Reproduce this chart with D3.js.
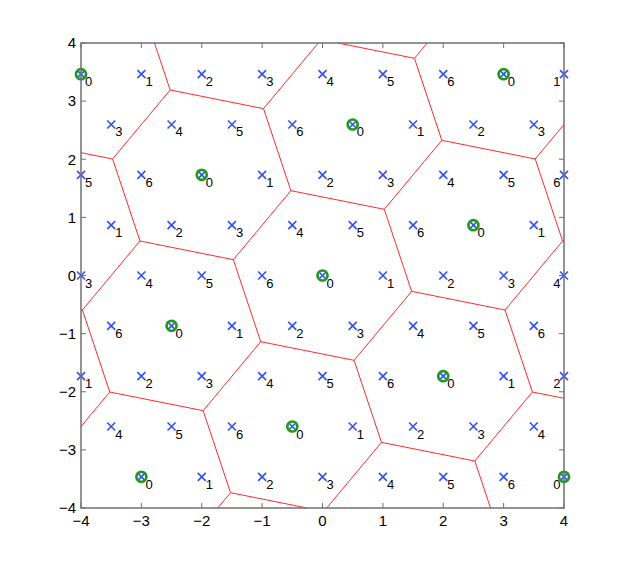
<!DOCTYPE html>
<html>
<head>
<meta charset="utf-8">
<script src="https://cdn.jsdelivr.net/npm/d3@7"></script>
<style>
  html, body { margin: 0; padding: 0; background: #fff; }
  svg { display: block; }
</style>
</head>
<body>
<svg id="chart" width="623" height="571"></svg>
<script>
// ---- data ----
const xTicks = [-4, -3, -2, -1, 0, 1, 2, 3, 4];
const yTicks = [-4, -3, -2, -1, 0, 1, 2, 3, 4];

// lattice rows (y value, x positions, labels)
const rowY = [3.4641, 2.5981, 1.7321, 0.8660, 0, -0.8660, -1.7321, -2.5981, -3.4641];
const rowX = [
  [-4, -3, -2, -1, 0, 1, 2, 3, 4],
  [-3.5, -2.5, -1.5, -0.5, 0.5, 1.5, 2.5, 3.5],
  [-4, -3, -2, -1, 0, 1, 2, 3, 4],
  [-3.5, -2.5, -1.5, -0.5, 0.5, 1.5, 2.5, 3.5],
  [-4, -3, -2, -1, 0, 1, 2, 3, 4],
  [-3.5, -2.5, -1.5, -0.5, 0.5, 1.5, 2.5, 3.5],
  [-4, -3, -2, -1, 0, 1, 2, 3, 4],
  [-3.5, -2.5, -1.5, -0.5, 0.5, 1.5, 2.5, 3.5],
  [-3, -2, -1, 0, 1, 2, 3, 4]
];
const rowLabels = [
  [0, 1, 2, 3, 4, 5, 6, 0, 1],
  [3, 4, 5, 6, 0, 1, 2, 3],
  [5, 6, 0, 1, 2, 3, 4, 5, 6],
  [1, 2, 3, 4, 5, 6, 0, 1],
  [3, 4, 5, 6, 0, 1, 2, 3, 4],
  [6, 0, 1, 2, 3, 4, 5, 6],
  [1, 2, 3, 4, 5, 6, 0, 1, 2],
  [4, 5, 6, 0, 1, 2, 3, 4],
  [0, 1, 2, 3, 4, 5, 6, 0]
];

// cluster centres used for the Voronoi partition (incl. ones just outside the view)
const cellCenters = [
  [6, 6.9282], [-1, 6.9282],
  [3.5, 6.0622], [-3.5, 6.0622],
  [1, 5.1962], [-6, 5.1962],
  [5.5, 4.3301], [-1.5, 4.3301],
  [3, 3.4641], [-4, 3.4641],
  [7.5, 2.5981], [0.5, 2.5981], [-6.5, 2.5981],
  [5, 1.7321], [-2, 1.7321],
  [2.5, 0.8660], [-4.5, 0.8660],
  [7, 0], [0, 0], [-7, 0],
  [4.5, -0.8660], [-2.5, -0.8660],
  [2, -1.7321], [-5, -1.7321],
  [6.5, -2.5981], [-0.5, -2.5981], [-7.5, -2.5981],
  [4, -3.4641], [-3, -3.4641],
  [1.5, -4.3301], [-5.5, -4.3301],
  [6, -5.1962], [-1, -5.1962],
  [3.5, -6.0622], [-3.5, -6.0622],
  [1, -6.9282], [-6, -6.9282]
];

// ---- layout ----
const svg = d3.select("#chart");
const L = 81, R = 564, T = 43, B = 508;
const x = d3.scaleLinear().domain([-4, 4]).range([L, R]);
const y = d3.scaleLinear().domain([-4, 4]).range([B, T]);

const points = [];
rowY.forEach((yy, i) => {
  rowX[i].forEach((xx, j) => points.push({x: xx, y: yy, lab: rowLabels[i][j]}));
});

svg.append("rect").attr("width", 623).attr("height", 571).attr("fill", "#fff");

// Voronoi edges
const vor = d3.Delaunay.from(cellCenters, d => x(d[0]), d => y(d[1])).voronoi([L, T, R, B]);
svg.append("path")
  .attr("d", vor.render())
  .attr("fill", "none")
  .attr("stroke", "#ff2a2a")
  .attr("stroke-width", 1);

// blue x markers
const s = 4;
const mk = svg.append("g").attr("stroke", "#3050ff").attr("stroke-width", 1.6).attr("fill", "none");
mk.selectAll("path").data(points).enter().append("path")
  .attr("d", d => {
    const px = x(d.x), py = y(d.y);
    return `M${px - s},${py - s}L${px + s},${py + s}M${px - s},${py + s}L${px + s},${py - s}`;
  });

// green circles on label-0 points
svg.append("g").selectAll("circle").data(points.filter(d => d.lab === 0)).enter().append("circle")
  .attr("cx", d => x(d.x)).attr("cy", d => y(d.y)).attr("r", 5)
  .attr("fill", "none").attr("stroke", "#1e9a1e").attr("stroke-width", 2.7);

// point labels
svg.append("g").selectAll("text").data(points).enter().append("text")
  .attr("x", d => d.x >= 4 ? x(d.x) - 3.5 : x(d.x) + 4)
  .attr("y", d => y(d.y) + 12)
  .attr("text-anchor", d => d.x >= 4 ? "end" : "start")
  .attr("font-family", "Liberation Sans, Arial, Helvetica, sans-serif")
  .attr("font-size", 13)
  .attr("fill", "#000")
  .text(d => d.lab);

// axes box and ticks
const axisColor = "#707070";
const ax = svg.append("g").attr("stroke", axisColor).attr("stroke-width", 1.5).attr("fill", "none");
ax.append("rect").attr("x", L).attr("y", T).attr("width", R - L).attr("height", B - T);
const tl = 5;
xTicks.forEach(t => {
  const px = x(t);
  ax.append("line").attr("x1", px).attr("x2", px).attr("y1", B).attr("y2", B - tl).attr("stroke-width", 1);
  ax.append("line").attr("x1", px).attr("x2", px).attr("y1", T).attr("y2", T + tl).attr("stroke-width", 1);
});
yTicks.forEach(t => {
  const py = y(t);
  ax.append("line").attr("x1", L).attr("x2", L + tl).attr("y1", py).attr("y2", py).attr("stroke-width", 1);
  ax.append("line").attr("x1", R).attr("x2", R - tl).attr("y1", py).attr("y2", py).attr("stroke-width", 1);
});

const fmt = d3.format("d");
svg.append("g").selectAll("text").data(xTicks).enter().append("text")
  .attr("x", d => x(d)).attr("y", 526)
  .attr("text-anchor", "middle")
  .attr("font-family", "Liberation Sans, Arial, Helvetica, sans-serif")
  .attr("font-size", 15).attr("fill", "#000")
  .text(d => fmt(d));
svg.append("g").selectAll("text").data(yTicks).enter().append("text")
  .attr("x", 76).attr("y", d => y(d) + 5.3)
  .attr("text-anchor", "end")
  .attr("font-family", "Liberation Sans, Arial, Helvetica, sans-serif")
  .attr("font-size", 15).attr("fill", "#000")
  .text(d => fmt(d));
</script>
</body>
</html>
